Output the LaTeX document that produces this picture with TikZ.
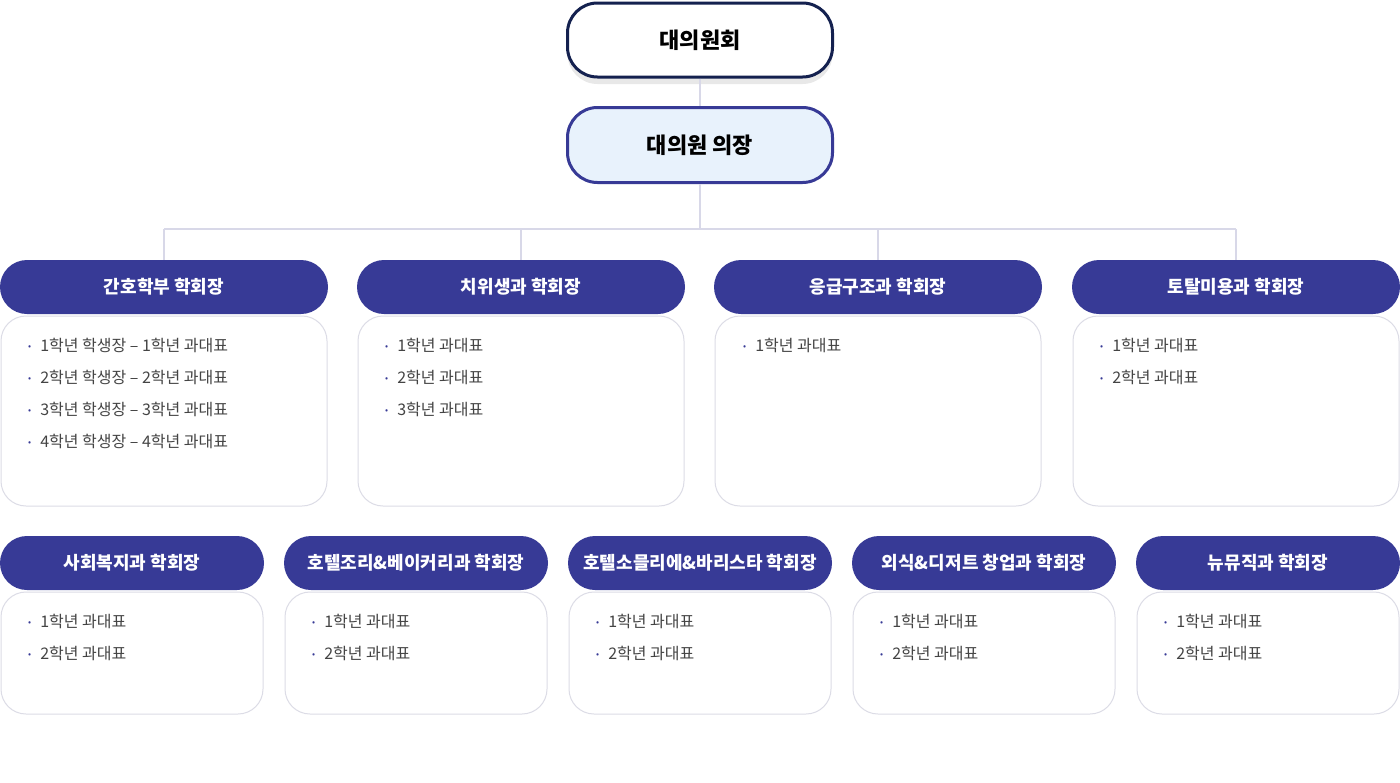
\documentclass[tikz,border=0pt]{standalone}
\usepackage{fontspec}
\setmainfont{Noto Sans CJK KR}
\usetikzlibrary{shadows}
\definecolor{navy}{HTML}{14214F}
\definecolor{hdr}{HTML}{373A96}
\definecolor{chairfill}{HTML}{E8F2FC}
\definecolor{linegray}{HTML}{D8D8E8}
\definecolor{boxgray}{HTML}{DCDCE6}
\definecolor{txt}{HTML}{444444}
\newcommand{\itm}[1]{{\color{hdr}\raisebox{2pt}{\fontsize{9}{9}\selectfont •}}\hspace{9pt}#1}
\tikzset{
  council/.style={draw=navy, line width=3pt, fill=white, rounded corners=30pt,
    minimum width=265pt, minimum height=74pt, font=\fontsize{22}{22}\selectfont\bfseries,
    drop shadow={opacity=0.18, shadow xshift=0pt, shadow yshift=-7pt}},
  chair/.style={draw=hdr, line width=3pt, fill=chairfill, rounded corners=30pt,
    minimum width=265pt, minimum height=75pt, font=\fontsize{22}{22}\selectfont\bfseries},
  head/.style={fill=hdr, text=white, rounded corners=27pt, minimum height=54pt,
    inner sep=0pt, font=\fontsize{18}{18}\selectfont\bfseries},
  card/.style={draw=boxgray, line width=1pt, fill=white, rounded corners=25pt, inner sep=0pt},
  items/.style={anchor=north west, align=left, inner sep=0pt, text=txt,
    font=\fontsize{16}{32}\selectfont},
  link/.style={draw=linegray, line width=2pt}
}
\begin{document}
\begin{tikzpicture}[x=1pt,y=-1pt]
\useasboundingbox[fill=white] (0,0) rectangle (1400,782);

% Top
\node[council] (council) at (700,40) {대의원회};
\node[chair] (chair) at (700,145) {대의원 의장};
\coordinate (bus) at (700,229);

% Row 1 headers and cards
\foreach \n/\x/\t in {a/164/간호학부 학회장, b/521/치위생과 학회장, c/878/응급구조과 학회장, d/1236/토탈미용과 학회장}{
  \node[card, minimum width=326pt, minimum height=190pt] (card\n) at (\x,411) {};
  \node[head, minimum width=328pt] (head\n) at (\x,287) {\t};
}

% Row 2 headers and cards
\foreach \n/\x/\t in {e/132/사회복지과 학회장, f/416/호텔조리\&베이커리과 학회장, g/700/호텔소믈리에\&바리스타 학회장, h/984/외식\&디저트 창업과 학회장, i/1268/뉴뮤직과 학회장}{
  \node[card, minimum width=262pt, minimum height=122pt] (card\n) at (\x,653) {};
  \node[head, minimum width=264pt] (head\n) at (\x,563) {\t};
}

% Connectors
\draw[link] (council.south) -- (chair.north);
\draw[link] (chair.south) -- (bus);
\draw[link] (heada.north |- bus) -- (headd.north |- bus);
\foreach \n in {a,b,c,d}
  \draw[link] (head\n.north |- bus) -- (head\n.north);

% Lists
\node[items] (lista) at (28,338) {\itm{1학년 학생장 – 1학년 과대표}\\ \itm{2학년 학생장 – 2학년 과대표}\\ \itm{3학년 학생장 – 3학년 과대표}\\ \itm{4학년 학생장 – 4학년 과대표}};
\node[items] (listb) at (385,338) {\itm{1학년 과대표}\\ \itm{2학년 과대표}\\ \itm{3학년 과대표}};
\node[items] (listc) at (743,338) {\itm{1학년 과대표}};
\node[items] (listd) at (1100,338) {\itm{1학년 과대표}\\ \itm{2학년 과대표}};
\foreach \n/\x in {e/28, f/312, g/596, h/880, i/1164}
  \node[items] (list\n) at (\x,614) {\itm{1학년 과대표}\\ \itm{2학년 과대표}};

\end{tikzpicture}
\end{document}
